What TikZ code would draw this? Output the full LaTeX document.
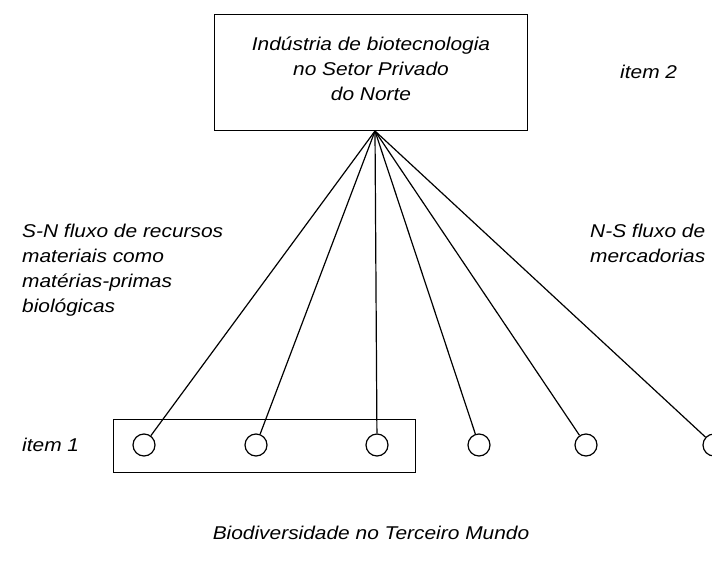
\documentclass[tikz,border=0pt]{standalone}
\usepackage{fontspec}
\setmainfont[FakeStretch=1.13]{Liberation Sans}
\begin{document}
\begin{tikzpicture}[x=1pt,y=-1pt,
  lbl/.style={font=\fontsize{18.5}{25}\selectfont\itshape, inner sep=0pt},
  dot/.style={circle, draw, line width=1.2pt, minimum size=22pt, inner sep=0pt},
  frame/.style={draw, line width=1.2pt},
  flow/.style={line width=1.2pt}]
\useasboundingbox (0,0) rectangle (712,562);
\node[frame, minimum width=313pt, minimum height=116pt, anchor=north west] (ind) at (214,14) {};
\node[lbl, align=center] (indt) at (371,69) {Indústria de biotecnologia\\no Setor Privado\\do Norte};
\coordinate (apex) at (375,131);
\node[frame, minimum width=302pt, minimum height=53pt, anchor=north west] (bio) at (113,419) {};
\node[dot] (c1) at (144,445) {};
\node[dot] (c2) at (256,445) {};
\node[dot] (c3) at (377,445) {};
\node[dot] (c4) at (479,445) {};
\node[dot] (c5) at (586,445) {};
\node[dot] (c6) at (714,445) {};
\foreach \c in {c1,c2,c3,c4,c5,c6} \draw[flow] (apex) -- (\c);
\node[lbl, anchor=west] (it2) at (620,72) {item 2};
\node[lbl, anchor=west] (it1) at (22,445) {item 1};
\node[lbl, anchor=north west, align=left] (sn) at (22,224) {S-N fluxo de recursos\\materiais como\\matérias-primas\\biológicas};
\node[lbl, anchor=north west, align=left] (ns) at (590,224) {N-S fluxo de\\mercadorias};
\node[lbl] (bt) at (371,533) {Biodiversidade no Terceiro Mundo};
\end{tikzpicture}
\end{document}
